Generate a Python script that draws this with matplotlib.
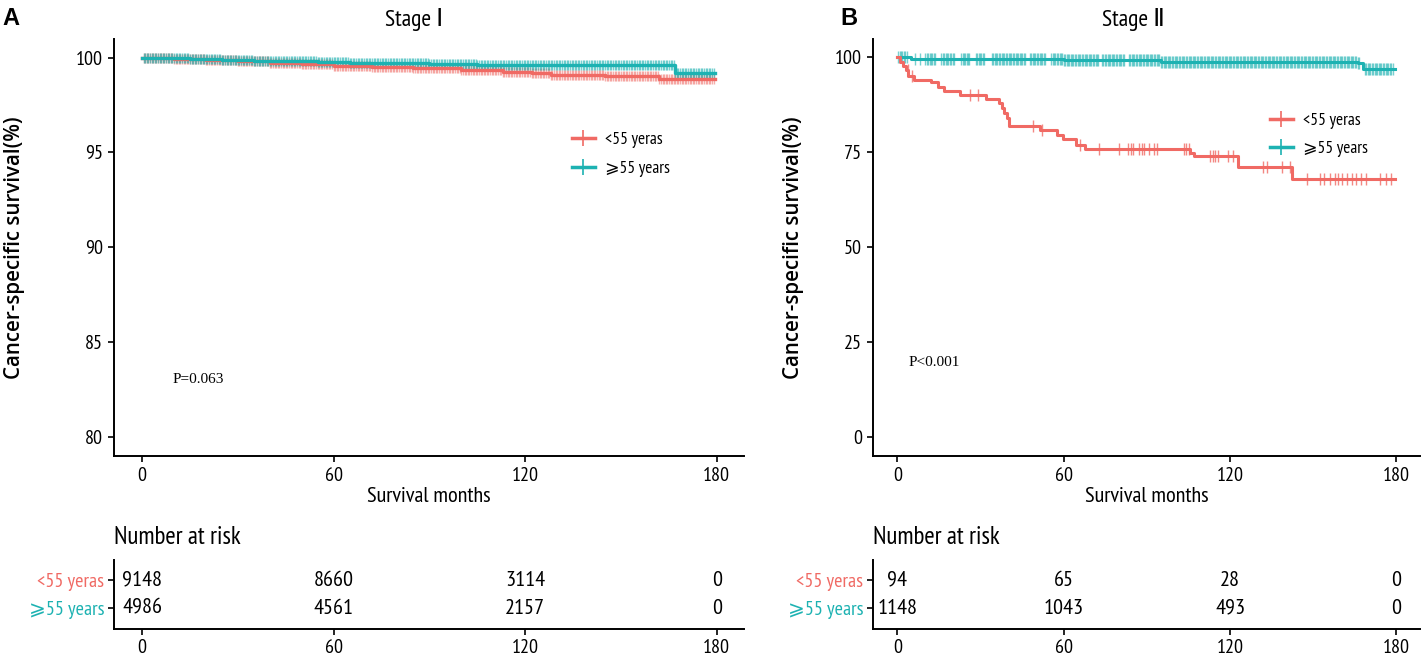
import matplotlib
matplotlib.use("Agg")
import matplotlib.pyplot as plt
from matplotlib.lines import Line2D
import numpy as np

RED = "#F06A64"
TEAL = "#1DB2B2"
NARROW = ["PT Sans Narrow", "Fira Sans Condensed", "Roboto Condensed", "Archivo Narrow", "DejaVu Sans"]

groups = ["<55 yeras", "\u2a7e55 years"]
risk_times = [0, 60, 120, 180]

# Stage I: Kaplan-Meier step points (months, survival %)
s1_young_t = [0, 10, 20, 30, 40, 50, 60, 72, 85, 100, 113, 122, 128, 145, 162]
s1_young_s = [100, 99.95, 99.88, 99.8, 99.72, 99.64, 99.56, 99.49, 99.43, 99.35, 99.26, 99.17, 99.07, 99.02, 98.87]
s1_old_t = [0, 8, 15, 25, 35, 45, 55, 65, 78, 90, 105, 118, 140, 167]
s1_old_s = [100, 99.97, 99.93, 99.88, 99.84, 99.8, 99.76, 99.73, 99.7, 99.67, 99.63, 99.6, 99.59, 99.2]
# censored observations: (from, to) month ranges where marks are packed
s1_young_cens = [(0.5, 179)]
s1_old_cens = [(0.5, 179)]
s1_risk_young = [9148, 8660, 3114, 0]
s1_risk_old = [4986, 4561, 2157, 0]

# Stage II
s2_young_t = [0, 1, 2, 3, 4, 6, 12.2, 14.5, 16.7, 22.7, 32, 36.8, 37.8, 38.6, 39.4, 40.4,
              51.4, 57.7, 59.9, 64.4, 67.7, 105.5, 107, 122.9, 142.2]
s2_young_s = [100, 98.9, 97.8, 96.8, 95.0, 94.1, 93.6, 92.3, 91.2, 90.1, 89.0, 87.9, 86.8, 85.3, 84.0, 81.9,
              80.9, 79.6, 78.4, 76.9, 75.8, 74.9, 74.0, 71.2, 67.9]
s2_young_cens = [3.7, 5.3, 26.3, 28.9, 49.0, 52.0, 65.9, 72.6, 79.8, 83.2, 84.1, 85.0, 87.1, 88.1, 89.0,
                 90.6, 92.5, 93.5, 103.3, 104.2, 105.1, 112.7, 113.8, 114.7, 115.6, 119.2, 121.2,
                 131.7, 133.4, 138.6, 141.5, 147.8, 152.6, 153.9, 155.9, 157.9, 159.1, 160.5, 162.2,
                 163.8, 165.4, 167.1, 169.1, 174.2, 176.2, 178.1]
s2_old_t = [0, 5, 30, 60, 95, 130, 166, 168]
s2_old_s = [100, 99.7, 99.5, 99.2, 98.9, 98.7, 98.5, 97.0]
s2_old_cens = [(0.3, 3.6), (6.2, 6.2), (8.1, 8.1), (10.1, 14), (15.9, 20.5), (23, 26.3), (28.3, 31.5),
               (34.1, 46.4), (47.8, 53.6), (55.5, 72.5), (73.8, 82.2), (83.5, 166.7), (168.6, 179)]
s2_risk_young = [94, 65, 28, 0]
s2_risk_old = [1148, 1043, 493, 0]


def expand_runs(runs, step):
    out = []
    for a, b in runs:
        out.extend(np.arange(a, b + 1e-9, step) if b > a else [a])
    return np.array(out)


def surv_at(t_steps, s_steps, t):
    idx = np.searchsorted(t_steps, t, side="right") - 1
    return np.array(s_steps)[idx]


def km(ax, t, s, cens, color, lw, ms, alpha, end=179.5):
    tt = list(t) + [end]
    ss = list(s) + [s[-1]]
    ax.step(tt, ss, where="post", color=color, lw=lw, zorder=3)
    cy = surv_at(t, s, cens)
    ax.plot(cens, cy, ls="none", marker="|", ms=ms, mew=1.0, color=color, alpha=alpha, zorder=2)


fig = plt.figure(figsize=(14.26, 6.59), dpi=100)


def panel(letter, letter_x, title, left, width, ylab_x, ylim, yticks, curves, pval, pxy, leg_anchor, risk):
    ax = fig.add_axes([left, 0.308, width, 0.633])
    for c in curves:
        km(ax, *c)
    ax.set_xlim(-8.8, 188.5)
    ax.set_ylim(*ylim)
    ax.set_xticks(risk_times)
    ax.set_yticks(yticks)
    for sp in ["top", "right"]:
        ax.spines[sp].set_visible(False)
    for sp in ["left", "bottom"]:
        ax.spines[sp].set_linewidth(1.4)
    ax.tick_params(length=4, width=1.2, labelsize=14.5, pad=4)
    for lab in ax.get_xticklabels() + ax.get_yticklabels():
        lab.set_family(NARROW)
    ax.set_xlabel("Survival months", family=NARROW, fontsize=16, labelpad=1)
    ax.set_ylabel("Cancer-specific survival(%)", family=["Open Sans", "DejaVu Sans"], fontsize=14.8,
                  fontweight="semibold")
    ax.yaxis.set_label_coords(ylab_x, 0.5)
    ax.set_title(title, family=NARROW, fontsize=17, pad=9, x=0.476)
    ax.text(pxy[0], pxy[1], pval, family=["Liberation Serif", "DejaVu Serif"], fontsize=11, va="center")
    handles = [Line2D([], [], color=RED, lw=2.5, marker="|", ms=11, mew=1.2),
               Line2D([], [], color=TEAL, lw=2.5, marker="|", ms=11, mew=1.2)]
    ax.legend(handles, groups, loc="center left", bbox_to_anchor=leg_anchor, frameon=False,
              handlelength=1.3, handletextpad=0.6, labelspacing=0.7, borderpad=0, borderaxespad=0,
              prop={"family": NARROW, "size": 12.5})
    fig.text(letter_x, 0.972, letter, fontsize=17, fontweight="bold",
             family=["Liberation Sans", "DejaVu Sans"], va="center")

    # number at risk table
    fig.text(left, 1 - 537 / 659, "Number at risk", family=NARROW, fontsize=18, va="center")
    tb = fig.add_axes([left, 0.0455, width, 0.1047])
    tb.set_xlim(-8.8, 188.5)
    tb.set_ylim(0, 1)
    rows_y = [0.71, 0.30]
    for y, vals in zip(rows_y, risk):
        for x, v in zip(risk_times, vals):
            tb.text(x, y, str(v), ha="center", va="center", family=NARROW, fontsize=16)
    tb.set_yticks(rows_y)
    tb.set_yticklabels(groups, family=NARROW, fontsize=13)
    for lab, col in zip(tb.get_yticklabels(), [RED, TEAL]):
        lab.set_color(col)
    tb.set_xticks(risk_times)
    for lab in tb.get_xticklabels():
        lab.set_family(NARROW)
    tb.tick_params(length=4, width=1.2, labelsize=14.5, pad=3)
    for sp in ["top", "right"]:
        tb.spines[sp].set_visible(False)
    for sp in ["left", "bottom"]:
        tb.spines[sp].set_linewidth(1.4)
    return ax


panel("A", 0.002, "Stage \u2160", 0.0799, 0.4418, -0.141, (78.98, 100.99), [80, 85, 90, 95, 100],
      [(s1_young_t, s1_young_s, expand_runs(s1_young_cens, 0.5), RED, 2.4, 6.5, 0.55),
       (s1_old_t, s1_old_s, expand_runs(s1_old_cens, 0.5), TEAL, 2.4, 6.5, 0.6)],
      "P=0.063", (9.7, 83.0), (0.727, 0.723), [s1_risk_young, s1_risk_old])

panel("B", 0.589, "Stage \u2161", 0.6122, 0.3836, -0.126, (-5.1, 104.9), [0, 25, 50, 75, 100],
      [(s2_old_t, s2_old_s, expand_runs(s2_old_cens, 0.5), TEAL, 2.2, 8, 0.6),
       (s2_young_t, s2_young_s, np.array(s2_young_cens), RED, 2.2, 8.5, 0.8)],
      "P<0.001", (4.0, 19.6), (0.726, 0.769), [s2_risk_young, s2_risk_old])

fig.savefig("out.png", dpi=100)
